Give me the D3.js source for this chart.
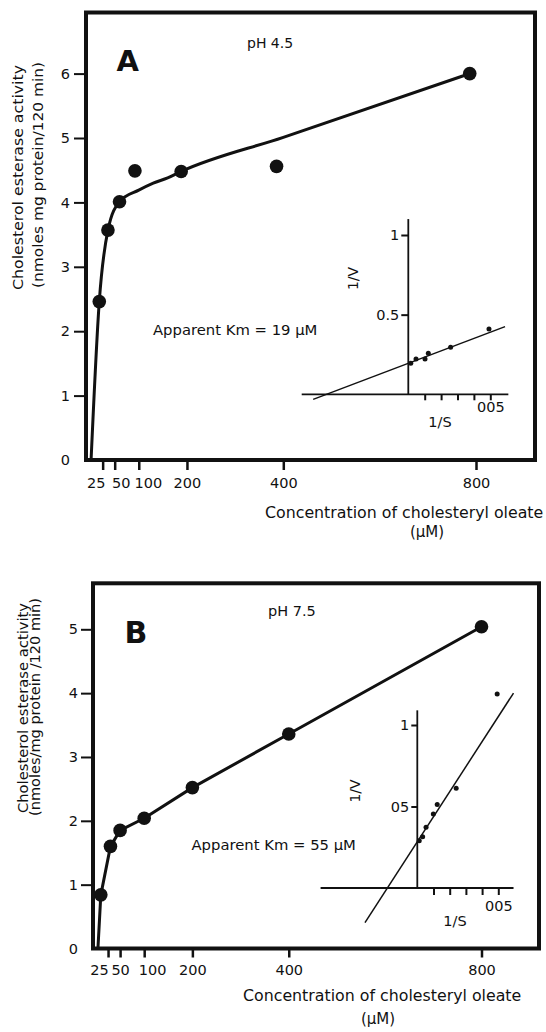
<!DOCTYPE html>
<html>
<head>
<meta charset="utf-8">
<script src="https://cdn.jsdelivr.net/npm/d3@7"></script>
<style>
  body { margin: 0; background: #fff; }
  svg { display: block; font-family: 'DejaVu Sans', sans-serif; }
</style>
</head>
<body>
<svg id="chart" width="546" height="1032"></svg>
<script>
// Tick values
var concTicks = [25, 50, 100, 200, 400, 800];
var yTicksA = [0, 1, 2, 3, 4, 5, 6];
var yTicksB = [0, 1, 2, 3, 4, 5];
var invSTicks = [0.01, 0.02, 0.03, 0.04, 0.05];
var invVTicks = [0.5, 1];

// Panel A (pH 4.5): measured activity and the hand drawn curve
var concA = [18, 36, 60, 92, 188, 386, 787];
var activityA = [2.46, 3.57, 4.01, 4.49, 4.48, 4.56, 6.0];
var curveConcA = [1, 18, 36, 60, 100, 130, 160, 188, 400, 787];
var curveActivityA = [0, 2.46, 3.57, 4.01, 4.19, 4.3, 4.38, 4.48, 5.01, 6.0];

// Panel A inset: double reciprocal plot
var invSA = [0.0015, 0.0047, 0.0102, 0.0122, 0.0258, 0.0492];
var invVA = [0.195, 0.222, 0.222, 0.257, 0.295, 0.41];
var fitSA = [-0.058, 0.059];
var fitVA = [-0.032, 0.425];

// Panel B (pH 7.5)
var concB = [10, 30, 50, 100, 200, 400, 800];
var activityB = [0.84, 1.6, 1.85, 2.04, 2.52, 3.36, 5.04];
var lineConcB = [4, 10, 30, 50, 100, 200, 400, 800];
var lineActivityB = [0, 0.84, 1.6, 1.85, 2.04, 2.52, 3.36, 5.04];

// Panel B inset
var invSB = [0.0012, 0.0033, 0.0054, 0.0099, 0.0123, 0.024, 0.0493];
var invVB = [0.29, 0.315, 0.372, 0.454, 0.513, 0.612, 1.19];
var fitSB = [-0.0323, 0.0594];
var fitVB = [-0.212, 1.196];

var ink = '#111';
var svg = d3.select('#chart');

function translate(dx, dy) {
  return 'translate(' + dx + ',' + dy + ')';
}

// Layout of the two panels (pixels)
var panels = [
  {
    letter: 'A', letterSize: 29, letterAt: [116.5, 70.5],
    ph: 'pH 4.5', phSize: 14, phAt: [247, 48],
    km: 'Apparent Km = 19 μM', kmAt: [153, 335],
    yTitleSize: 14.5,
    yTitle: [
      [22.5, 177.5, 225, 'Cholesterol esterase activity'],
      [42.5, 175, 226, '(nmoles mg protein/120 min)']
    ],
    xTitleAt: [265, 518], unitAt: [427, 537],
    frame: [86, 12.5, 535, 460],
    xRange: [90.6, 476], yRange: [460, 73.6], yMax: 6, yTicks: yTicksA,
    yTickSize: 12, yTickPad: 4, xTickSize: 10,
    nudge: {25: -7, 50: 6, 100: 9},
    conc: concA, activity: activityA,
    lineConc: curveConcA, lineActivity: curveActivityA, curve: d3.curveMonotoneX,
    inset: {
      sRange: [408.3, 490.3], vRange: [394.3, 235],
      sExtent: [-0.065, 0.061], vTop: 1.1,
      sTick: 6, sPad: 1.5, vTick: 7, vPad: 2,
      vLabels: {0.5: '0.5', 1: '1'},
      sTitleAt: [440, 427], vTitleAt: [358, 278.5],
      invS: invSA, invV: invVA, fitS: fitSA, fitV: fitVA
    }
  },
  {
    letter: 'B', letterSize: 30, letterAt: [124.5, 643],
    ph: 'pH 7.5', phSize: 14.5, phAt: [268, 616],
    km: 'Apparent Km = 55 μM', kmAt: [191.5, 850],
    yTitleSize: 13.5,
    yTitle: [
      [28, 708, 210, 'Cholesterol esterase activity'],
      [39.5, 707, 218, '(nmoles/mg protein /120 min)']
    ],
    xTitleAt: [243, 1001], unitAt: [378, 1024],
    frame: [93, 583.3, 539, 948.5],
    xRange: [96, 481.5], yRange: [948.5, 629.3], yMax: 5, yTicks: yTicksB,
    yTickSize: 12, yTickPad: 3, xTickSize: 9,
    nudge: {25: -9, 50: 0, 100: 8},
    conc: concB, activity: activityB,
    lineConc: lineConcB, lineActivity: lineActivityB, curve: d3.curveLinear,
    inset: {
      sRange: [417.3, 498.3], vRange: [888, 725],
      sExtent: [-0.0597, 0.0594], vTop: 1.09,
      sTick: 7, sPad: 6, vTick: 6, vPad: 2,
      vLabels: {0.5: '05', 1: '1'},
      sTitleAt: [455, 926], vTitleAt: [360, 791],
      invS: invSB, invV: invVB, fitS: fitSB, fitV: fitVB
    }
  }
];

function styleAxis(axisG, size) {
  axisG.attr('font-family', null).attr('font-size', null);
  axisG.select('.domain').remove();
  axisG.selectAll('.tick line').attr('stroke', ink).attr('stroke-width', 2);
  axisG.selectAll('.tick text').attr('fill', ink).style('font-size', size + 'px');
}

function drawInset(g, p) {
  var s = p.inset;
  var sx = d3.scaleLinear().domain([0, 0.05]).range(s.sRange);
  var vy = d3.scaleLinear().domain([0, 1]).range(s.vRange);

  // Axes lines
  g.append('line')
    .attr('x1', sx(s.sExtent[0])).attr('x2', sx(s.sExtent[1]))
    .attr('y1', vy(0)).attr('y2', vy(0))
    .attr('stroke', ink).attr('stroke-width', 1.8);
  g.append('line')
    .attr('x1', sx(0)).attr('x2', sx(0))
    .attr('y1', vy(0)).attr('y2', vy(s.vTop))
    .attr('stroke', ink).attr('stroke-width', 1.8);

  var sAxis = g.append('g')
    .attr('transform', translate(0, vy(0)))
    .call(d3.axisBottom(sx).tickValues(invSTicks).tickSize(s.sTick).tickPadding(s.sPad)
      .tickFormat(function (d) { return d === 0.05 ? '005' : ''; }));
  styleAxis(sAxis, 14.5);

  var vAxis = g.append('g')
    .attr('transform', translate(sx(0), 0))
    .call(d3.axisLeft(vy).tickValues(invVTicks).tickSize(s.vTick).tickPadding(s.vPad)
      .tickFormat(function (d) { return s.vLabels[d]; }));
  styleAxis(vAxis, 14.5);

  g.append('text')
    .attr('x', s.sTitleAt[0]).attr('y', s.sTitleAt[1])
    .attr('text-anchor', 'middle').attr('fill', ink)
    .style('font-size', '14.5px').text('1/S');
  g.append('text')
    .attr('transform', translate(s.vTitleAt[0], s.vTitleAt[1]) + ' rotate(-90)')
    .attr('text-anchor', 'middle').attr('fill', ink)
    .style('font-size', '14px').text('1/V');

  // Fitted line and points
  var line = d3.line()
    .x(function (d) { return sx(d[0]); })
    .y(function (d) { return vy(d[1]); });
  g.append('path')
    .attr('d', line(d3.zip(s.fitS, s.fitV)))
    .attr('fill', 'none').attr('stroke', ink).attr('stroke-width', 1.5);
  g.selectAll('.lb-dot')
    .data(d3.zip(s.invS, s.invV))
    .enter().append('circle')
    .attr('class', 'lb-dot')
    .attr('cx', function (d) { return sx(d[0]); })
    .attr('cy', function (d) { return vy(d[1]); })
    .attr('r', 2.5)
    .attr('fill', ink);
}

function drawPanel(p) {
  var g = svg.append('g');
  var x = d3.scaleLinear().domain([0, 800]).range(p.xRange);
  var y = d3.scaleLinear().domain([0, p.yMax]).range(p.yRange);
  var f = p.frame;

  // Frame
  g.append('rect')
    .attr('x', f[0]).attr('y', f[1])
    .attr('width', f[2] - f[0]).attr('height', f[3] - f[1])
    .attr('fill', 'none').attr('stroke', ink).attr('stroke-width', 4);

  // Concentration axis
  var xAxis = g.append('g')
    .attr('transform', translate(0, f[3]))
    .call(d3.axisBottom(x).tickValues(concTicks).tickSize(p.xTickSize).tickPadding(7.5)
      .tickFormat(d3.format('d')));
  styleAxis(xAxis, 14.5);
  xAxis.selectAll('.tick line').attr('stroke-width', 2.5);
  xAxis.selectAll('.tick text').attr('dx', function (d) { return p.nudge[d] || 0; });

  // Activity axis
  var yAxis = g.append('g')
    .attr('transform', translate(f[0], 0))
    .call(d3.axisLeft(y).tickValues(p.yTicks).tickSize(p.yTickSize).tickPadding(p.yTickPad)
      .tickFormat(d3.format('d')));
  styleAxis(yAxis, 14.5);
  yAxis.selectAll('.tick').filter(function (d) { return d === 0; }).select('line').remove();

  // Titles and labels
  g.append('text')
    .attr('x', p.letterAt[0]).attr('y', p.letterAt[1])
    .attr('fill', ink).attr('font-weight', 'bold')
    .style('font-size', p.letterSize + 'px').text(p.letter);
  g.append('text')
    .attr('x', p.phAt[0]).attr('y', p.phAt[1])
    .attr('fill', ink).style('font-size', p.phSize + 'px').text(p.ph);
  g.append('text')
    .attr('x', p.kmAt[0]).attr('y', p.kmAt[1])
    .attr('fill', ink).style('font-size', '14.8px').text(p.km);
  g.append('text')
    .attr('x', p.xTitleAt[0]).attr('y', p.xTitleAt[1])
    .attr('fill', ink).style('font-size', '15.8px')
    .text('Concentration of cholesteryl oleate');
  g.append('text')
    .attr('x', p.unitAt[0]).attr('y', p.unitAt[1])
    .attr('text-anchor', 'middle')
    .attr('fill', ink).style('font-size', '15px').text('(μM)');
  p.yTitle.forEach(function (t) {
    g.append('text')
      .attr('transform', translate(t[0], t[1]) + ' rotate(-90)')
      .attr('text-anchor', 'middle')
      .attr('textLength', t[2]).attr('lengthAdjust', 'spacingAndGlyphs')
      .attr('fill', ink).style('font-size', p.yTitleSize + 'px').text(t[3]);
  });

  // Saturation curve and points
  var line = d3.line()
    .curve(p.curve)
    .x(function (d) { return x(d[0]); })
    .y(function (d) { return y(d[1]); });
  g.append('path')
    .attr('d', line(d3.zip(p.lineConc, p.lineActivity)))
    .attr('fill', 'none').attr('stroke', ink)
    .attr('stroke-width', 3).attr('stroke-linejoin', 'round');
  g.selectAll('.dot')
    .data(d3.zip(p.conc, p.activity))
    .enter().append('circle')
    .attr('class', 'dot')
    .attr('cx', function (d) { return x(d[0]); })
    .attr('cy', function (d) { return y(d[1]); })
    .attr('r', 6.8)
    .attr('fill', ink);

  drawInset(g, p);
}

panels.forEach(drawPanel);
</script>
</body>
</html>
